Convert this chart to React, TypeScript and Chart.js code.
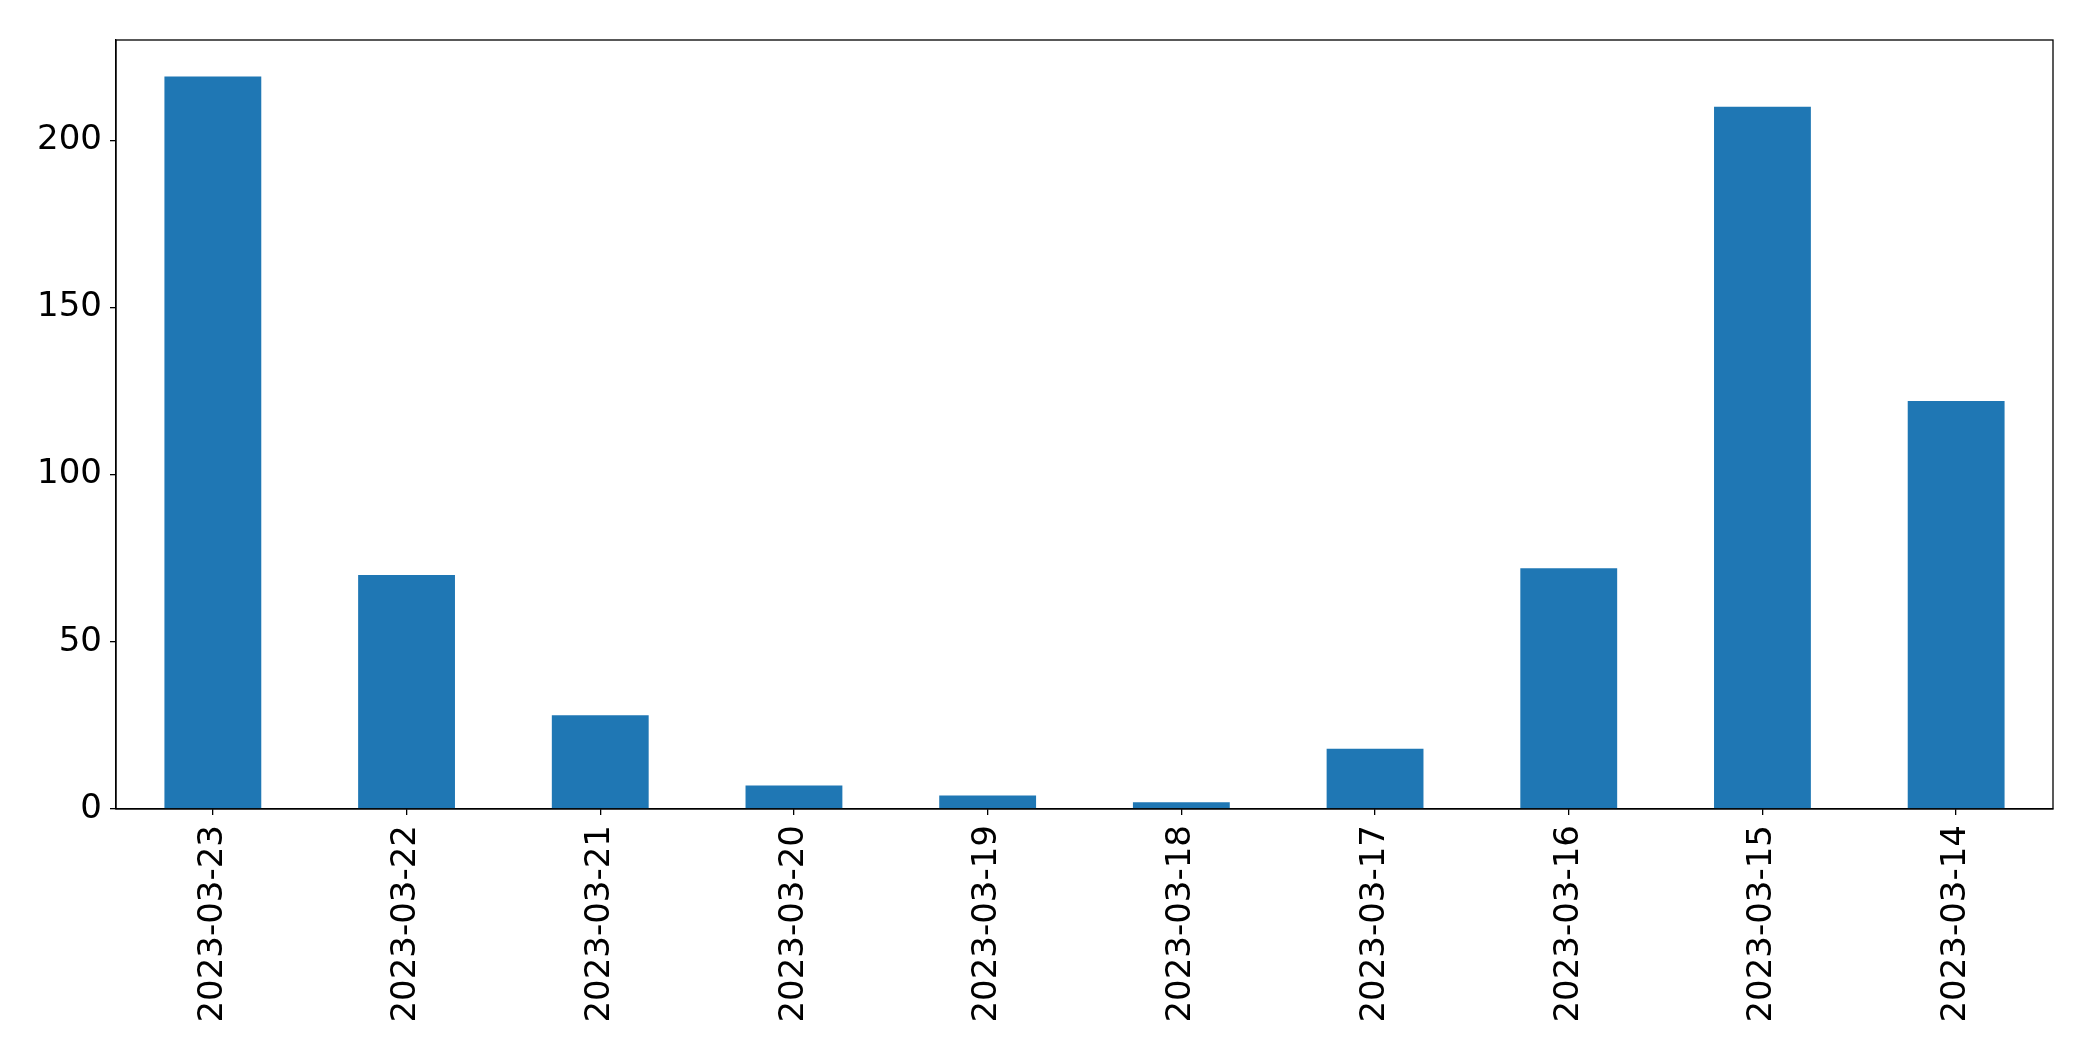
import React, { useEffect, useRef } from "react";
import { Chart, registerables } from "chart.js";

Chart.register(...registerables);

const categories = [
  "2023-03-23",
  "2023-03-22",
  "2023-03-21",
  "2023-03-20",
  "2023-03-19",
  "2023-03-18",
  "2023-03-17",
  "2023-03-16",
  "2023-03-15",
  "2023-03-14",
];
const counts = [219, 70, 28, 7, 4, 2, 18, 72, 210, 122];
const yTicks = [0, 50, 100, 150, 200];

const W = 2093;
const H = 1061;
const PLOT_LEFT = 116;
const PLOT_TOP = 40;
const PLOT_RIGHT = 2053;
const PLOT_BOTTOM = 809;

const frame = {
  id: "frame",
  afterDatasetsDraw(chart: any) {
    const { ctx, chartArea } = chart;
    ctx.save();
    ctx.strokeStyle = "#000";
    ctx.lineWidth = 1.3;
    ctx.strokeRect(chartArea.left, chartArea.top, chartArea.right - chartArea.left, chartArea.bottom - chartArea.top);
    ctx.restore();
  },
};

export default function App() {
  const ref = useRef<HTMLCanvasElement | null>(null);
  useEffect(() => {
    if (!ref.current) return;
    const font = { family: "'DejaVu Sans', sans-serif", size: 34 };
    const chart = new Chart(ref.current, {
      type: "bar",
      data: {
        labels: categories,
        datasets: [
          {
            data: counts,
            backgroundColor: "#1f77b4",
            borderWidth: 0,
            barPercentage: 0.5,
            categoryPercentage: 1.0,
          },
        ],
      },
      options: {
        animation: false,
        responsive: false,
        maintainAspectRatio: false,
        layout: { padding: { top: PLOT_TOP, right: W - PLOT_RIGHT, left: 0, bottom: 0 } },
        plugins: { legend: { display: false }, tooltip: { enabled: false } },
        scales: {
          x: {
            offset: true,
            grid: { display: true, drawOnChartArea: false, drawTicks: true, tickLength: 6, color: "#000", lineWidth: 1.3, offset: false },
            border: { display: true, color: "#000", width: 1.3 },
            ticks: {
              font,
              color: "#000",
              maxRotation: 90,
              minRotation: 90,
              autoSkip: false,
              padding: 10,
            },
            afterFit(scale: any) {
              scale.height = H - PLOT_BOTTOM;
            },
          },
          y: {
            min: 0,
            max: Math.max(...counts) * 1.05,
            grid: { display: true, drawOnChartArea: false, drawTicks: true, tickLength: 6, color: "#000", lineWidth: 1.3 },
            border: { display: true, color: "#000", width: 1.3 },
            ticks: { font, color: "#000", padding: 8 },
            afterBuildTicks(scale: any) {
              scale.ticks = yTicks.map((v) => ({ value: v }));
            },
            afterFit(scale: any) {
              scale.width = PLOT_LEFT;
            },
          },
        },
      },
      plugins: [frame],
    });
    return () => chart.destroy();
  }, []);
  return (
    <div style={{ position: "fixed", left: 0, top: 0, width: W, height: H, background: "#fff" }}>
      <canvas ref={ref} width={W} height={H} style={{ width: W, height: H, display: "block" }} />
    </div>
  );
}
